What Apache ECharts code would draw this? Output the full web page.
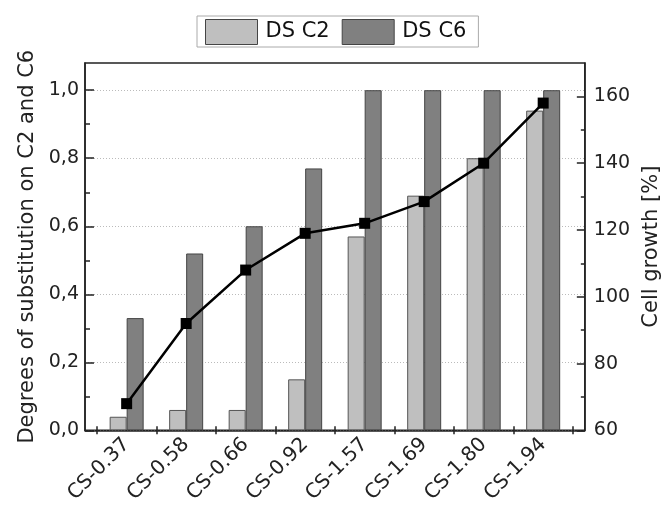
<!DOCTYPE html>
<html>
<head>
<meta charset="utf-8">
<script src="https://cdn.jsdelivr.net/npm/echarts@6/dist/echarts.min.js"></script>
<style>
  html, body { margin: 0; padding: 0; background: #fff; }
  #chart { width: 670px; height: 506px; }
</style>
</head>
<body>
<div id="chart"></div>
<script>
// ---- data ----
const categories = ['CS-0.37', 'CS-0.58', 'CS-0.66', 'CS-0.92', 'CS-1.57', 'CS-1.69', 'CS-1.80', 'CS-1.94'];
const dsC2 = [0.04, 0.06, 0.06, 0.15, 0.57, 0.69, 0.80, 0.94];
const dsC6 = [0.33, 0.52, 0.60, 0.77, 1.00, 1.00, 1.00, 1.00];
const cellGrowth = [68, 92, 108, 119, 122, 128.5, 140, 158];
const leftTicks = [0, 0.2, 0.4, 0.6, 0.8, 1.0];
const leftMinorTicks = [0.1, 0.3, 0.5, 0.7, 0.9];
const rightTicks = [60, 80, 100, 120, 140, 160];
const rightMinorTicks = [70, 90, 110, 130, 150];

// ---- derived ----
const centers = categories.map((c, i) => i + 1);
const bounds = categories.map((c, i) => i + 0.5).concat([categories.length + 0.5]);
const font = 'DejaVu Sans';
const txt = '#222';

const chart = echarts.init(document.getElementById('chart'), null, { renderer: 'canvas' });
chart.setOption({
  animation: false,
  textStyle: { fontFamily: font },
  legend: {
    left: 197, top: 16,
    data: [
      { name: 'DS C2', itemStyle: { color: '#bfbfbf', borderColor: '#444', borderWidth: 1 } },
      { name: 'DS C6', itemStyle: { color: '#808080', borderColor: '#444', borderWidth: 1 } }
    ],
    itemWidth: 52, itemHeight: 25, itemGap: 12,
    padding: [3, 12, 2, 8],
    borderColor: '#aaa', borderWidth: 1,
    icon: 'rect',
    textStyle: { fontFamily: font, fontSize: 21, color: '#111', padding: [0, 0, 0, 3] }
  },
  grid: {
    left: 85, right: 75, top: 63, bottom: 68,
    show: true, borderColor: '#222', borderWidth: 1.5, containLabel: false
  },
  xAxis: [
    {
      type: 'value', min: 0.3, max: 8.7, position: 'bottom',
      axisLine: { show: true, onZero: false, lineStyle: { color: '#222', width: 1.5 } },
      axisTick: { show: true, inside: false, length: 4, customValues: bounds, lineStyle: { color: '#222', width: 1.5 } },
      axisLabel: {
        customValues: centers, rotate: 45, margin: 11,
        fontFamily: font, fontSize: 20, color: txt,
        formatter: v => categories[Math.round(v) - 1] || ''
      },
      splitLine: { show: false }
    },
    {
      type: 'value', min: 0.3, max: 8.7, position: 'bottom',
      axisLine: { show: false, onZero: false },
      axisTick: { show: true, inside: true, length: 4, customValues: bounds, lineStyle: { color: '#222', width: 1.5 } },
      axisLabel: { show: false },
      splitLine: { show: false }
    }
  ],
  yAxis: [
    {
      type: 'value', min: 0, max: 1.08, interval: 0.2, position: 'left',
      name: 'Degrees of substitution on C2 and C6', nameLocation: 'middle', nameGap: 46,
      nameTextStyle: { fontFamily: font, fontSize: 21, color: txt },
      axisLine: { show: true, onZero: false, lineStyle: { color: '#222', width: 1.5 } },
      axisTick: { show: true, inside: true, length: 9, customValues: leftTicks, lineStyle: { color: '#222', width: 1.5 } },
      axisLabel: {
        customValues: leftTicks, margin: 6, fontFamily: font, fontSize: 19, color: txt,
        formatter: v => v.toFixed(1).replace('.', ',')
      },
      splitLine: { show: true, lineStyle: { color: '#bbb', width: 1, type: [1, 2] } }
    },
    {
      type: 'value', min: 0, max: 1.08, position: 'left',
      axisLine: { show: false, onZero: false },
      axisTick: { show: true, inside: true, length: 5, customValues: leftMinorTicks, lineStyle: { color: '#222', width: 1.5 } },
      axisLabel: { show: false },
      splitLine: { show: false }
    },
    {
      type: 'value', min: 60, max: 170, interval: 20, position: 'right',
      name: 'Cell growth [%]', nameLocation: 'middle', nameGap: 52,
      nameTextStyle: { fontFamily: font, fontSize: 21, color: txt },
      axisLine: { show: true, onZero: false, lineStyle: { color: '#222', width: 1.5 } },
      axisTick: { show: true, inside: true, length: 8, customValues: rightTicks, lineStyle: { color: '#222', width: 1.5 } },
      axisLabel: { customValues: rightTicks, margin: 9, fontFamily: font, fontSize: 19, color: txt },
      splitLine: { show: false }
    },
    {
      type: 'value', min: 60, max: 170, position: 'right',
      axisLine: { show: false, onZero: false },
      axisTick: { show: true, inside: true, length: 4, customValues: rightMinorTicks, lineStyle: { color: '#222', width: 1.5 } },
      axisLabel: { show: false },
      splitLine: { show: false }
    }
  ],
  series: [
    {
      name: 'DS C2', type: 'bar', xAxisIndex: 0, yAxisIndex: 0,
      barWidth: 17, barGap: '0%',
      itemStyle: { color: '#bfbfbf', borderColor: '#555', borderWidth: 1 },
      data: dsC2.map((v, i) => [centers[i], v])
    },
    {
      name: 'DS C6', type: 'bar', xAxisIndex: 0, yAxisIndex: 0,
      barWidth: 17, barGap: '0%',
      itemStyle: { color: '#808080', borderColor: '#444', borderWidth: 1 },
      data: dsC6.map((v, i) => [centers[i], v])
    },
    {
      name: 'Cell growth', type: 'line', xAxisIndex: 0, yAxisIndex: 2,
      symbol: 'rect', symbolSize: 11,
      itemStyle: { color: '#000' },
      lineStyle: { color: '#000', width: 2.5 },
      data: cellGrowth.map((v, i) => [centers[i], v]),
      z: 5
    }
  ]
});
</script>
</body>
</html>
